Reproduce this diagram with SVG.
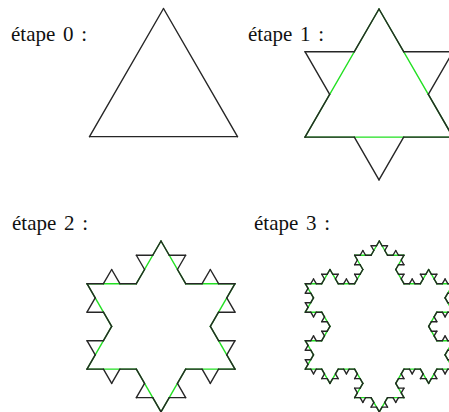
<svg xmlns="http://www.w3.org/2000/svg" width="449" height="412" viewBox="0 0 449 412">
<style>
.seg{fill:none;stroke-width:1.4;stroke-linecap:round;vector-effect:non-scaling-stroke}
.b{stroke:#262626}
.g{stroke:#22e022}
text{font-family:"Liberation Serif","Times New Roman",serif;font-size:21px;word-spacing:2.5px;fill:#111}
</style>
<defs>
<path id="k0" class="seg" d="M0 0L1 0"/>
<g id="k1">
<use href="#k0" transform="scale(0.333333)"/>
<use href="#k0" transform="translate(0.333333,0) rotate(-60) scale(0.333333)"/>
<use href="#k0" transform="translate(0.5,-0.288675) rotate(60) scale(0.333333)"/>
<use href="#k0" transform="translate(0.666667,0) scale(0.333333)"/>
</g>
<g id="k2">
<use href="#k1" transform="scale(0.333333)"/>
<use href="#k1" transform="translate(0.333333,0) rotate(-60) scale(0.333333)"/>
<use href="#k1" transform="translate(0.5,-0.288675) rotate(60) scale(0.333333)"/>
<use href="#k1" transform="translate(0.666667,0) scale(0.333333)"/>
</g>
<g id="k3">
<use href="#k2" transform="scale(0.333333)"/>
<use href="#k2" transform="translate(0.333333,0) rotate(-60) scale(0.333333)"/>
<use href="#k2" transform="translate(0.5,-0.288675) rotate(60) scale(0.333333)"/>
<use href="#k2" transform="translate(0.666667,0) scale(0.333333)"/>
</g>
<g id="f0"><use href="#k0" transform="rotate(60)"/><use href="#k0" transform="translate(0.5,0.866025) rotate(180)"/><use href="#k0" transform="translate(-0.5,0.866025) rotate(-60)"/></g>
<g id="f1"><use href="#k1" transform="rotate(60)"/><use href="#k1" transform="translate(0.5,0.866025) rotate(180)"/><use href="#k1" transform="translate(-0.5,0.866025) rotate(-60)"/></g>
<g id="f2"><use href="#k2" transform="rotate(60)"/><use href="#k2" transform="translate(0.5,0.866025) rotate(180)"/><use href="#k2" transform="translate(-0.5,0.866025) rotate(-60)"/></g>
<g id="f3"><use href="#k3" transform="rotate(60)"/><use href="#k3" transform="translate(0.5,0.866025) rotate(180)"/><use href="#k3" transform="translate(-0.5,0.866025) rotate(-60)"/></g>
</defs>
<g id="step0">
<text x="11" y="41">étape 0 :</text>
<use href="#f0" class="b" transform="translate(163.5,8.5) scale(148)"/>
</g>
<g id="step1">
<text x="248" y="41">étape 1 :</text>
<use href="#f0" class="g" transform="translate(379,9) scale(148)"/>
<use href="#f1" class="b" transform="translate(379,9) scale(148)"/>
</g>
<g id="step2">
<text x="12" y="230">étape 2 :</text>
<use href="#f1" class="g" transform="translate(161,241) scale(148)"/>
<use href="#f2" class="b" transform="translate(161,241) scale(148)"/>
</g>
<g id="step3">
<text x="254" y="230">étape 3 :</text>
<use href="#f2" class="g" transform="translate(379.3,241) scale(148)"/>
<use href="#f3" class="b" transform="translate(379.3,241) scale(148)"/>
</g>
</svg>
